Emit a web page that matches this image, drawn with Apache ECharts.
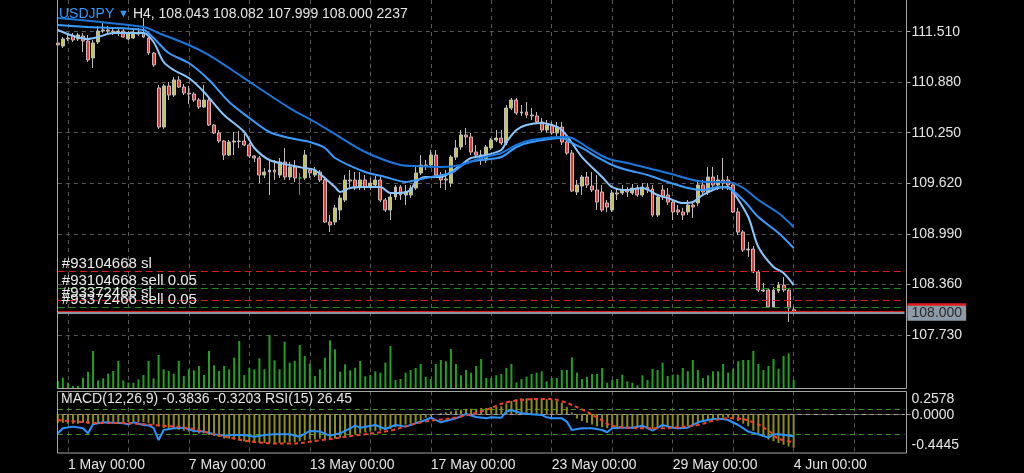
<!DOCTYPE html>
<html><head><meta charset="utf-8">
<script src="https://cdn.jsdelivr.net/npm/echarts@6.0.0/dist/echarts.min.js"></script>
<style>html,body{margin:0;padding:0;background:#000;}#c{width:1024px;height:473px;}</style>
</head><body><div id="c"></div>
<script>
// ---------- data ----------
const symbolName = 'USDJPY';
const timeframe = 'H4';
const dateTickIndex = [2, 26, 50, 74, 98, 122, 146];
const dateTickLabels = ['1 May 00:00','7 May 00:00','13 May 00:00','17 May 00:00','23 May 00:00','29 May 00:00','4 Jun 00:00'];
const priceTicks = [111.510, 110.880, 110.250, 109.620, 108.990, 108.360, 107.730];
const macdTicks = [0.2578, 0.0000, -0.4445];
const rsiLevels = [70, 30];

const opens = [111.369,111.331,111.419,111.456,111.419,111.456,111.394,111.182,111.381,111.518,
111.531,111.518,111.506,111.518,111.419,111.431,111.494,111.494,111.431,111.244,
110.808,110.321,110.833,110.720,110.908,110.820,110.745,110.733,110.658,110.571,
110.658,110.346,110.247,110.147,109.972,110.134,110.147,110.147,110.097,109.960,
109.935,109.723,109.760,109.785,109.723,109.885,109.698,109.823,109.686,109.686,
109.785,109.723,109.760,109.661,109.137,109.137,109.287,109.411,109.661,109.661,
109.573,109.661,109.586,109.598,109.661,109.411,109.287,109.449,109.573,109.474,
109.474,109.561,109.748,109.848,109.848,109.972,109.723,109.661,109.623,109.947,
110.072,110.222,110.197,110.010,109.972,109.910,110.060,110.159,110.184,110.122,
110.558,110.658,110.496,110.509,110.471,110.459,110.384,110.284,110.346,110.247,
110.321,110.134,109.997,109.511,109.586,109.698,109.586,109.536,109.511,109.374,
109.287,109.499,109.499,109.536,109.499,109.561,109.474,109.573,109.548,109.224,
109.536,109.474,109.386,109.287,109.262,109.262,109.349,109.374,109.598,109.511,
109.698,109.598,109.661,109.661,109.598,109.262,109.012,108.788,108.800,108.514,
108.289,108.289,108.077,108.277,108.351,108.289,108.043];
const closes = [111.344,111.419,111.431,111.406,111.469,111.394,111.157,111.369,111.518,111.531,
111.518,111.506,111.518,111.444,111.481,111.494,111.481,111.444,111.244,111.095,
110.321,110.833,110.720,110.908,110.820,110.745,110.733,110.658,110.571,110.658,
110.346,110.247,110.147,109.972,110.134,110.147,110.140,110.097,109.960,109.935,
109.723,109.760,109.785,109.760,109.885,109.698,109.823,109.686,109.686,109.972,
109.748,109.785,109.661,109.137,109.100,109.312,109.436,109.661,109.648,109.561,
109.661,109.573,109.623,109.661,109.411,109.287,109.449,109.573,109.474,109.511,
109.561,109.748,109.848,109.835,109.972,109.723,109.661,109.673,109.947,110.060,
110.222,110.197,110.010,109.972,109.910,110.072,110.159,110.184,110.122,110.558,
110.658,110.496,110.509,110.471,110.459,110.384,110.284,110.346,110.247,110.321,
110.134,109.997,109.524,109.598,109.698,109.598,109.536,109.386,109.287,109.324,
109.499,109.486,109.536,109.511,109.561,109.474,109.573,109.536,109.224,109.449,
109.449,109.386,109.262,109.262,109.224,109.349,109.324,109.598,109.511,109.698,
109.598,109.661,109.623,109.598,109.262,109.012,108.788,108.800,108.514,108.289,
108.277,108.077,108.289,108.351,108.289,108.065,108.000];
const lows = [111.307,111.307,111.394,111.381,111.394,111.257,111.132,111.057,111.356,111.494,
111.481,111.469,111.456,111.431,111.406,111.419,111.456,111.431,111.219,111.070,
110.297,110.297,110.658,110.696,110.808,110.720,110.608,110.633,110.546,110.558,
110.334,110.234,110.122,109.910,109.960,109.972,110.060,110.085,109.935,109.885,
109.623,109.686,109.474,109.661,109.686,109.661,109.661,109.636,109.474,109.661,
109.686,109.698,109.636,109.125,109.012,109.100,109.162,109.386,109.573,109.536,
109.536,109.536,109.536,109.561,109.386,109.262,109.162,109.411,109.411,109.349,
109.436,109.536,109.723,109.785,109.810,109.698,109.561,109.536,109.573,109.910,
110.035,110.097,109.972,109.935,109.848,109.873,110.035,110.134,110.097,110.097,
110.533,110.471,110.459,110.434,110.409,110.359,110.259,110.247,110.222,110.197,
110.097,109.972,109.511,109.474,109.474,109.561,109.511,109.287,109.262,109.262,
109.262,109.411,109.474,109.449,109.474,109.449,109.449,109.499,109.199,109.199,
109.411,109.349,109.162,109.224,109.162,109.224,109.187,109.336,109.474,109.474,
109.536,109.536,109.536,109.536,109.249,108.975,108.763,108.701,108.501,108.264,
108.264,108.065,108.065,108.252,108.264,107.890,107.999];
const highs = [111.406,111.444,111.469,111.494,111.494,111.494,111.469,111.406,111.581,111.631,
111.581,111.568,111.556,111.556,111.518,111.531,111.556,111.681,111.456,111.257,
110.845,110.858,110.883,110.945,110.957,110.858,110.833,110.758,110.683,110.845,
110.683,110.359,110.284,110.159,110.159,110.259,110.272,110.234,110.122,109.972,
109.960,109.810,109.910,109.910,109.935,110.060,109.885,109.910,109.748,110.035,
109.810,109.823,109.785,109.686,109.224,109.349,109.474,109.723,109.785,109.760,
109.760,109.723,109.686,109.711,109.698,109.436,109.511,109.598,109.598,109.598,
109.598,109.848,109.972,109.910,110.035,110.035,109.760,109.785,109.972,110.159,
110.284,110.309,110.247,110.097,110.035,110.097,110.184,110.284,110.284,110.596,
110.683,110.683,110.596,110.633,110.558,110.509,110.434,110.409,110.384,110.384,
110.384,110.184,110.035,109.661,109.723,109.760,109.760,109.723,109.598,109.411,
109.536,109.561,109.598,109.573,109.611,109.598,109.623,109.623,109.598,109.474,
109.598,109.561,109.411,109.349,109.312,109.411,109.374,109.661,109.661,109.823,
109.823,109.723,109.935,109.711,109.623,109.312,109.037,108.888,108.838,108.538,
108.376,108.314,108.326,108.389,108.451,108.314,108.082];
const volumes = [2000,2830,1580,750,750,2830,4330,9500,2170,2670,3830,4500,7000,2170,1580,1580,2420,3500,7000,2670,
8500,4920,4500,3830,7000,3250,4920,4670,5750,3500,9500,5920,4500,5750,4920,7830,12000,3500,5330,4920,
7670,4920,13500,7170,4920,11830,6580,7000,11000,8250,6330,3250,4920,7830,12170,9920,4330,6170,4670,5330,
7000,3170,3500,4420,4080,6580,10750,2250,2500,4080,4750,5250,6250,3080,2500,6250,7250,6920,10000,6250,
3420,4750,4080,5750,7500,2750,2750,3420,3750,5250,6250,1670,2500,3080,3750,4080,4420,1920,2750,2750,
4750,4750,7920,4080,2500,3080,3750,3750,5250,1580,2250,2500,3580,1920,1580,920,3420,2250,5000,4750,
6580,3250,3580,3580,5250,4420,7250,4750,2750,3420,4420,4420,6250,4080,5080,6920,7250,7250,9500,6250,
4750,5750,7500,5080,8250,8920,2237];

// moving averages: [bar index, price]
const maFast = [[0,111.531],[6,111.419],[8,111.444],[11,111.494],[17,111.494],[19,111.381],[21,111.132],[23,111.032],[26,110.932],[29,110.758],[33,110.471],[37,110.259],[39,110.060],[42,109.910],[46,109.848],[49,109.810],[51,109.785],[55,109.573],[56,109.511],[58,109.561],[61,109.573],[64,109.573],[66,109.499],[68,109.499],[70,109.536],[71,109.636],[73,109.698],[76,109.698],[78,109.760],[80,109.848],[82,109.935],[85,109.972],[88,110.035],[89,110.134],[91,110.284],[93,110.346],[96,110.371],[98,110.346],[100,110.284],[102,110.122],[104,109.947],[108,109.698],[110,109.573],[113,109.536],[116,109.561],[119,109.474],[121,109.436],[124,109.374],[126,109.386],[128,109.474],[131,109.561],[133,109.573],[134,109.511],[137,109.199],[139,108.825],[142,108.576],[144,108.501],[146,108.351]];
const maMid = [[0,111.593],[6,111.568],[17,111.531],[19,111.431],[22,111.244],[26,111.119],[30,110.907],[34,110.633],[38,110.434],[42,110.259],[46,110.184],[50,110.134],[53,110.060],[55,109.935],[61,109.760],[65,109.698],[69,109.636],[72,109.673],[74,109.698],[78,109.748],[81,109.873],[84,109.910],[88,109.947],[91,110.072],[94,110.134],[100,110.184],[102,110.122],[104,110.060],[107,109.947],[110,109.848],[113,109.785],[117,109.723],[121,109.636],[125,109.561],[128,109.536],[131,109.573],[133,109.561],[136,109.411],[139,109.199],[143,109.000],[146,108.813]];
const maSlow = [[0,111.681],[17,111.568],[20,111.494],[26,111.344],[30,111.219],[34,111.057],[39,110.845],[46,110.558],[51,110.384],[55,110.234],[61,110.010],[68,109.848],[71,109.835],[76,109.823],[80,109.848],[84,109.935],[88,109.997],[91,110.097],[94,110.159],[100,110.197],[102,110.184],[105,110.072],[108,109.960],[110,109.910],[113,109.873],[117,109.810],[121,109.748],[126,109.661],[129,109.636],[133,109.636],[136,109.561],[139,109.411],[143,109.249],[146,109.075]];

const macdMain = [-0.10,-0.10,-0.11,-0.11,-0.11,-0.10,-0.11,-0.12,-0.11,-0.10,-0.10,-0.09,-0.09,-0.09,-0.09,-0.09,-0.09,-0.09,-0.10,-0.12,
-0.14,-0.16,-0.17,-0.17,-0.18,-0.19,-0.20,-0.21,-0.22,-0.22,-0.24,-0.25,-0.26,-0.28,-0.28,-0.29,-0.30,-0.31,-0.32,-0.32,
-0.33,-0.33,-0.33,-0.33,-0.33,-0.33,-0.32,-0.32,-0.31,-0.30,-0.29,-0.29,-0.28,-0.29,-0.29,-0.28,-0.27,-0.25,-0.24,-0.23,
-0.22,-0.21,-0.20,-0.19,-0.19,-0.18,-0.17,-0.15,-0.14,-0.12,-0.11,-0.09,-0.07,-0.04,-0.02,0.00,0.01,0.02,0.03,0.04,
0.05,0.06,0.06,0.06,0.07,0.07,0.08,0.08,0.09,0.12,0.15,0.17,0.18,0.18,0.18,0.18,0.17,0.17,0.16,0.15,
0.13,0.08,0.02,-0.05,-0.08,-0.10,-0.12,-0.14,-0.15,-0.16,-0.16,-0.16,-0.16,-0.16,-0.16,-0.16,-0.16,-0.16,-0.17,-0.16,
-0.15,-0.15,-0.15,-0.15,-0.15,-0.14,-0.13,-0.11,-0.09,-0.07,-0.06,-0.05,-0.04,-0.04,-0.05,-0.08,-0.11,-0.14,-0.19,-0.22,
-0.26,-0.29,-0.31,-0.33,-0.35,-0.37,-0.3836];
const macdSignal = [[0,-0.069],[6,-0.095],[8,-0.103],[13,-0.103],[19,-0.125],[26,-0.162],[32,-0.244],[39,-0.318],[46,-0.337],[52,-0.300],[59,-0.244],[66,-0.188],[72,-0.095],[79,-0.039],[84,0.030],[90,0.146],[97,0.172],[100,0.146],[104,0.053],[107,-0.039],[110,-0.132],[114,-0.158],[117,-0.162],[120,-0.162],[123,-0.151],[127,-0.125],[130,-0.077],[133,-0.047],[135,-0.051],[138,-0.095],[141,-0.188],[143,-0.281],[146,-0.3203]];
const rsi = [[0,31.1],[1,39.3],[3,42.1],[5,39.3],[6,31.1],[7,45.9],[9,49.2],[13,47.6],[14,45.9],[15,49.2],[17,44.8],[18,44.0],[19,40.0],[20,20.1],[21,36.6],[23,39.3],[25,40.4],[27,35.0],[29,33.9],[31,29.5],[33,27.3],[35,28.4],[37,28.4],[39,25.6],[41,28.4],[43,29.5],[46,29.5],[48,25.6],[50,35.0],[52,33.9],[54,27.3],[56,31.1],[58,39.3],[59,43.7],[60,40.4],[63,44.8],[65,38.2],[67,44.8],[69,42.1],[71,47.6],[73,53.0],[74,56.9],[76,49.2],[79,55.8],[81,62.9],[83,58.0],[85,55.8],[86,57.4],[88,56.9],[89,66.8],[90,69.5],[92,64.0],[94,62.4],[96,61.3],[97,57.4],[98,55.8],[100,55.8],[101,50.3],[102,36.6],[104,39.3],[106,39.3],[108,36.6],[109,32.8],[110,39.3],[112,40.4],[114,40.4],[116,43.7],[118,35.5],[120,44.8],[122,40.4],[123,39.3],[125,40.4],[127,49.2],[128,51.4],[130,54.7],[132,54.7],[133,53.0],[135,44.8],[137,33.9],[139,29.5],[141,24.0],[142,29.5],[143,29.5],[146,26.45]];

const orderLabels = ['#93104668 sl', '#93104668 sell 0.05', '#93372466 sl', '#93372466 sell 0.05'];
const orderPrices = [108.517, 108.310, 108.164, 108.068];
const orderKinds = ['sl', 'open', 'sl', 'open'];
const bidPrice = 108.000;
const askPrice = 108.025;

// ---------- layout / style ----------
const FONT = 'Liberation Sans';
const SLOTS = 169, STEP = 5.04, LEFT = 57.8;
const WIDTH = STEP * (SLOTS - 1);
const cats = Array.from({length: SLOTS}, (_, i) => i);
const isGridIdx = (i) => i >= 2 && (i - 2) % 12 === 0;
const GRID_DASH = {color: '#5a5a5a', type: [4, 4], width: 1};
const TXT = '#e6e6e6';
const DOJI = '#1fc01f';

const candleData = opens.map((o, i) => {
  const item = {value: [o, closes[i], lows[i], highs[i]]};
  if (o === closes[i]) item.itemStyle = {color: DOJI, color0: DOJI, borderColor: DOJI, borderColor0: DOJI, borderColorDoji: DOJI};
  return item;
});

const last = opens.length - 1;
const headText = `${timeframe}, ${opens[last].toFixed(3)} ${highs[last].toFixed(3)} ${lows[last].toFixed(3)} ${closes[last].toFixed(3)} ${volumes[last]}`;
const macdText = `MACD(12,26,9) ${macdMain[last].toFixed(4)} ${macdSignal[macdSignal.length-1][1].toFixed(4)} RSI(15) ${rsi[rsi.length-1][1].toFixed(2)}`;

const orderLines = orderPrices.map((p, k) => ({
  yAxis: p,
  lineStyle: {color: orderKinds[k] === 'sl' ? '#d81e1e' : '#1d8a1d', type: [7, 4], width: 1},
  label: {show: true, position: 'insideStartTop', formatter: orderLabels[k], color: '#ececec',
          fontFamily: FONT, fontSize: 15, distance: [4, 0]}
}));
const priceBoxLabel = (bg, fg, txt) => ({show: true, position: 'end', formatter: txt, backgroundColor: bg,
  color: fg, fontFamily: FONT, fontSize: 14, padding: [1, 4, 0, 4], distance: 3});
const macdLabel = (v) => {
  const s = v.toFixed(4);
  if (v === macdTicks[0]) return '{top|' + s + '}';
  if (v === macdTicks[macdTicks.length - 1]) return '{bot|' + s + '}';
  return '{mid|' + s + '}';
};
const lblRich = {color: TXT, fontSize: 14, fontFamily: FONT};

const chart = echarts.init(document.getElementById('c'), null, {renderer: 'canvas'});
chart.setOption({
  backgroundColor: '#000',
  animation: false,
  textStyle: {fontFamily: FONT},
  title: [
    {text: `{a|${symbolName}} {t|▼} {b|${headText}}`, left: 59, top: 7, padding: 0,
     textStyle: {fontSize: 14, fontWeight: 'normal', color: TXT,
       rich: {a: {color: '#2c9bff', fontSize: 14, fontWeight: 'normal', fontFamily: FONT},
              t: {color: '#2c9bff', fontSize: 11, fontWeight: 'normal', fontFamily: FONT},
              b: {color: TXT, fontSize: 14, fontWeight: 'normal', fontFamily: FONT}}}},
    {text: macdText, left: 61, top: 392, padding: 0, textStyle: {fontSize: 14, fontWeight: 'normal', color: TXT, fontFamily: FONT}}
  ],
  grid: [
    {left: LEFT, width: WIDTH, top: 0, height: 389},
    {left: LEFT, width: WIDTH, top: 391.5, height: 61.5}
  ],
  xAxis: [
    {type: 'category', gridIndex: 0, data: cats, boundaryGap: false,
     axisLine: {show: false}, axisTick: {show: false}, axisLabel: {show: false},
     splitLine: {show: true, interval: (i) => isGridIdx(i), lineStyle: GRID_DASH}},
    {type: 'category', gridIndex: 1, data: cats, boundaryGap: false,
     axisLine: {show: true, lineStyle: {color: '#a5a5a5'}},
     axisTick: {show: true, interval: (i) => dateTickIndex.includes(i), length: 4, lineStyle: {color: '#a5a5a5'}},
     axisLabel: {show: true, interval: (i) => dateTickIndex.includes(i), align: 'left', margin: 5,
       color: TXT, fontSize: 14, fontFamily: FONT,
       formatter: (v, i) => dateTickLabels[dateTickIndex.indexOf(i)] || ''},
     splitLine: {show: true, interval: (i) => isGridIdx(i), lineStyle: GRID_DASH}}
  ],
  yAxis: [
    {type: 'value', gridIndex: 0, position: 'right', offset: 2, min: 107.055, max: 111.905, scale: true,
     splitLine: {show: false}, axisLine: {show: false},
     axisTick: {show: true, customValues: priceTicks, length: 4, lineStyle: {color: '#a5a5a5'}},
     axisLabel: {show: true, customValues: priceTicks, formatter: (v) => v.toFixed(3), color: TXT, fontSize: 14, fontFamily: FONT, margin: 5}},
    {type: 'value', gridIndex: 0, min: 0, max: 97250, show: false, splitLine: {show: false}},
    {type: 'value', gridIndex: 1, position: 'right', offset: 2, min: -0.4445, max: 0.2578,
     splitLine: {show: false}, axisLine: {show: false},
     axisTick: {show: true, customValues: [0], length: 4, lineStyle: {color: '#a5a5a5'}},
     axisLabel: {show: true, customValues: macdTicks, formatter: macdLabel, color: TXT, fontSize: 14, fontFamily: FONT, margin: 5,
       rich: {top: Object.assign({padding: [15, 0, 0, 0]}, lblRich),
              mid: Object.assign({padding: [2, 0, 0, 0]}, lblRich),
              bot: Object.assign({padding: [0, 0, 15, 0]}, lblRich)}}},
    {type: 'value', gridIndex: 1, min: -1.3, max: 99.9, show: false, splitLine: {show: false}}
  ],
  graphic: [
    {type: 'rect', z: 50, silent: true, shape: {x: 57.5, y: -2, width: 849, height: 390.5}, style: {fill: 'none', stroke: '#a5a5a5', lineWidth: 1}},
    {type: 'rect', z: 50, silent: true, shape: {x: 57.5, y: 391.5, width: 849, height: 61.5}, style: {fill: 'none', stroke: '#a5a5a5', lineWidth: 1}}
  ],
  series: [
    {name: 'Volume', type: 'bar', xAxisIndex: 0, yAxisIndex: 1, data: volumes, barWidth: 2, z: 2,
     itemStyle: {color: '#23a023'}},
    {name: symbolName, type: 'candlestick', xAxisIndex: 0, yAxisIndex: 0, data: candleData, barWidth: 3.4, z: 3,
     itemStyle: {color: '#c6c64a', color0: '#dc3c3c', borderColor: '#bdbdbd', borderColor0: '#c8b8b8', borderWidth: 1},
     markLine: {silent: true, symbol: ['none', 'none'], animation: false, z: 6,
       data: orderLines.concat([
         {yAxis: askPrice, lineStyle: {color: '#e01c1c', type: 'solid', width: 1}, label: priceBoxLabel('#e01c1c', '#e01c1c', bidPrice.toFixed(3))},
         {yAxis: bidPrice, lineStyle: {color: '#8b97a4', type: 'solid', width: 2}, label: priceBoxLabel('#8d9aa8', '#2a2a2a', bidPrice.toFixed(3))}
       ])}},
    {name: 'MA fast', type: 'line', xAxisIndex: 0, yAxisIndex: 0, data: maFast, showSymbol: false, smooth: 0.3, z: 4,
     lineStyle: {color: '#8cc6ff', width: 2},
     markLine: {silent: true, symbol: ['none', 'none'], z: 1, label: {show: false}, lineStyle: GRID_DASH,
       data: priceTicks.map((p) => ({yAxis: p}))}},
    {name: 'MA mid', type: 'line', xAxisIndex: 0, yAxisIndex: 0, data: maMid, showSymbol: false, smooth: 0.3, z: 4,
     lineStyle: {color: '#3a9cff', width: 2}},
    {name: 'MA slow', type: 'line', xAxisIndex: 0, yAxisIndex: 0, data: maSlow, showSymbol: false, smooth: 0.3, z: 4,
     lineStyle: {color: '#1b76dc', width: 2}},
    {name: 'MACD', type: 'bar', xAxisIndex: 1, yAxisIndex: 2, data: macdMain, barWidth: 2, z: 2,
     itemStyle: {color: '#8e8e10'},
     markLine: {silent: true, symbol: ['none', 'none'], z: 1, label: {show: false}, lineStyle: GRID_DASH,
       data: [{yAxis: 0}]}},
    {name: 'Signal', type: 'line', xAxisIndex: 1, yAxisIndex: 2, data: macdSignal, showSymbol: false, smooth: 0.4, z: 4,
     lineStyle: {color: '#f0402c', width: 2, type: [4, 3]}},
    {name: 'RSI', type: 'line', xAxisIndex: 1, yAxisIndex: 3, data: rsi, showSymbol: false, z: 3,
     lineStyle: {color: '#2c94ff', width: 2},
     markLine: {silent: true, symbol: ['none', 'none'], z: 1, label: {show: false},
       lineStyle: {color: '#3c9a1e', type: [5, 4], width: 1},
       data: rsiLevels.map((v) => ({yAxis: v}))}}
  ]
});
</script></body></html>
